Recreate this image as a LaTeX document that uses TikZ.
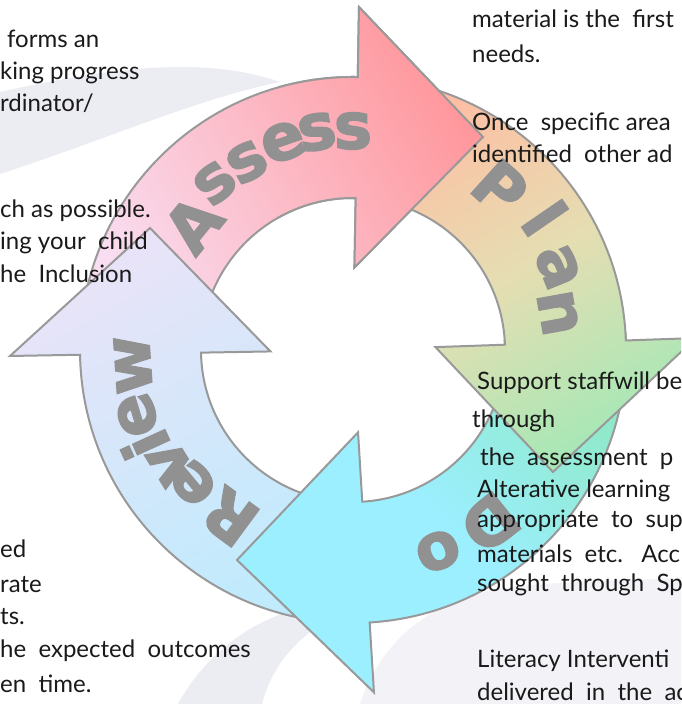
\documentclass[tikz,border=0pt]{standalone}
\usepackage{fontspec}
\setmainfont{Lato}
\newfontfamily\labelfont[BoldFont={DejaVu Sans Bold}, BoldFeatures={FakeBold=2.6}]{DejaVu Sans}

\definecolor{ringline}{HTML}{999999}
\definecolor{wordgray}{HTML}{919191}
\definecolor{inkblack}{HTML}{1A1A1A}
\definecolor{swirl}{HTML}{ECECF3}
\definecolor{assessL}{HTML}{F9DDF0}
\definecolor{assessR}{HTML}{FF979C}
\definecolor{planT}{HTML}{FFBDA3}
\definecolor{planM}{HTML}{E5DEB2}
\definecolor{planB}{HTML}{A5E8B6}
\definecolor{doT}{HTML}{90E9C8}
\definecolor{doB}{HTML}{9BEFFF}
\definecolor{reviewT}{HTML}{EAE3F8}
\definecolor{reviewB}{HTML}{BFEBFD}

\begin{document}
\begin{tikzpicture}[x=1pt,y=1pt,
    bodytext/.style={anchor=base west, inner sep=0pt, text=inkblack, font=\fontsize{24}{29}\selectfont},
    ringarrow/.style={draw=ringline, line width=2pt, line join=miter},
    letter/.style={inner sep=0pt, text=wordgray, font=\labelfont\bfseries\fontsize{64}{64}\selectfont}]

    \clip (0,0) rectangle (681,704);
    \fill[white] (0,0) rectangle (681,704);

    % faint swirl behind the cycle
    \fill[swirl] (0,612) .. controls (100,634) and (200,650) .. (280,622) .. controls (200,606) and (110,566) .. (0,530) -- cycle;
    \fill[swirl] (178,0) .. controls (200,40) and (240,80) .. (300,96) -- (336,88) .. controls (300,70) and (272,40) .. (262,0) -- cycle;
    \fill[swirl!70] (360,0) .. controls (380,60) and (430,110) .. (520,118) .. controls (590,124) and (640,124) .. (681,126) -- (681,0) -- cycle;

    % the four arrows, centre of the ring at (353,354)
    \begin{scope}[shift={(353,354)}]
        \draw[ringarrow, left color=assessL, right color=assessR, shading angle=120] (179:273) arc[start angle=179, end angle=89, radius=273] -- (89:343) -- (130,213) -- (89:82.5) -- (89:152) arc[start angle=89, end angle=179, radius=152] -- cycle;
        \draw[ringarrow, top color=reviewT, bottom color=reviewB, shading angle=30] (271:273) arc[start angle=271, end angle=181, radius=273] -- (181:343) -- (-203,122) -- (181:82.5) -- (181:152) arc[start angle=181, end angle=271, radius=152] -- cycle;
        \draw[ringarrow, top color=doT, bottom color=doB, middle color=doB, shading angle=-45] (3.5:273) arc[start angle=3.5, end angle=-86.5, radius=273] -- (-86.5:343) -- (-116,-210) -- (-86.5:82.5) -- (-86.5:152) arc[start angle=-86.5, end angle=3.5, radius=152] -- cycle;
        \draw[ringarrow, top color=planT, bottom color=planB, middle color=planM, shading angle=30] (92:273) arc[start angle=92, end angle=2, radius=273] -- (2:343) -- (200,-122) -- (2:82.5) -- (2:152) arc[start angle=2, end angle=92, radius=152] -- cycle;
        % assess head again, over the start of plan
        \begin{scope}
            \clip (-75,0) rectangle (330,352);
            \draw[ringarrow, left color=assessL, right color=assessR, shading angle=120] (179:273) arc[start angle=179, end angle=89, radius=273] -- (89:343) -- (130,213) -- (89:82.5) -- (89:152) arc[start angle=89, end angle=179, radius=152] -- cycle;
        \end{scope}
    \end{scope}

    % words on the arrows
    \node[letter, rotate=51] (asA) at (193,480) {A};
    \node[letter, rotate=39.6] (asS1) at (215,521) {s};
    \node[letter, rotate=29.4] (asS2) at (247,542) {s};
    \node[letter, rotate=18.6] (asE) at (283,562) {e};
    \node[letter, rotate=9.9] (asS3) at (317,572) {s};
    \node[letter, rotate=0.5] (asS4) at (353,573) {s};

    \node[letter, rotate=-42.2] (plP) at (500,516) {P};
    \node[letter, rotate=-55.5] (plL) at (545,486) {l};
    \node[letter, rotate=-68] (plA) at (558,437) {a};
    \node[letter, rotate=-79.8] (plN) at (558,391) {n};

    \node[letter, rotate=-141.6] (doD) at (490,181) {D};
    \node[letter, rotate=-157] (doO) at (438,153) {o};

    \node[letter, rotate=143.6] (rvR) at (230,187) {R};
    \node[letter, rotate=129.7] (rvE1) at (193,221) {e};
    \node[letter, rotate=121.7] (rvV) at (170,241) {v};
    \node[letter, rotate=114.5] (rvI) at (145,259) {i};
    \node[letter, rotate=106.7] (rvE2) at (137,289) {e};
    \node[letter, rotate=93.9] (rvW) at (133,339) {w};

    % text of the page round the cycle
    \node[bodytext] (lt1) at (7,656) {forms an};
    \node[bodytext] (lt2) at (0,624) {king progress};
    \node[bodytext] (lt3) at (0,592) {rdinator/};
    \node[bodytext] (lt4) at (0,486) {ch as possible.};
    \node[bodytext] (lt5) at (0,454) {ing your\ \ child};
    \node[bodytext] (lt6) at (0,421) {he\ \ Inclusion};
    \node[bodytext] (lb1) at (0,146) {ed};
    \node[bodytext] (lb2) at (0,111) {rate};
    \node[bodytext] (lb3) at (0,79) {ts.};
    \node[bodytext] (lb4) at (0,46) {he\ \ expected\ \ outcomes};
    \node[bodytext] (lb5) at (0,12) {en\ \ time.};

    \node[bodytext] (rt1) at (472,676) {material is the\ \ first};
    \node[bodytext] (rt2) at (472,641) {needs.};
    \node[bodytext] (rt3) at (472,573) {Once\ \ specific area};
    \node[bodytext] (rt4) at (472,541) {identified\ \ other ad};
    \node[bodytext] (rb1) at (477,314) {Support staffwill be};
    \node[bodytext] (rb2) at (472,276) {through};
    \node[bodytext] (rb3) at (480,238) {the\ \ assessment\ \ p};
    \node[bodytext] (rb4) at (477,206) {Alterative learning};
    \node[bodytext] (rb5) at (477,176) {appropriate\ \ to\ \ sup};
    \node[bodytext] (rb6) at (477,141) {materials\ \ etc.\ \ \ Acc};
    \node[bodytext] (rb7) at (477,112) {sought\ \ through\ \ Sp};
    \node[bodytext] (rb8) at (477,36) {Literacy Interventi};
    \node[bodytext] (rb9) at (477,4) {delivered\ \ in\ \ the\ \ ac};

\end{tikzpicture}
\end{document}
